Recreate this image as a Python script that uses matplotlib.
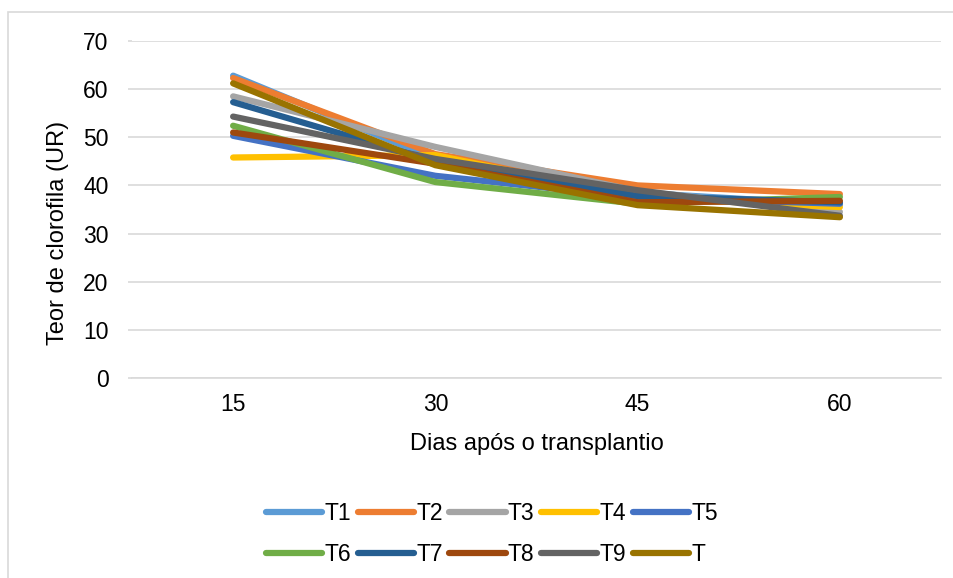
import matplotlib
matplotlib.use("Agg")
import matplotlib.pyplot as plt
from matplotlib.patches import Rectangle

plt.rcParams['font.family'] = ['Liberation Sans', 'DejaVu Sans']

dias = ["15", "30", "45", "60"]
series = ["T1", "T2", "T3", "T4", "T5", "T6", "T7", "T8", "T9", "T"]

t1 = [62.8, 45.5, 38.5, 36.0]
t2 = [62.3, 46.5, 40.0, 38.2]
t3 = [58.5, 48.0, 38.8, 34.5]
t4 = [45.8, 46.3, 37.5, 35.5]
t5 = [50.3, 42.0, 37.5, 36.2]
t6 = [52.4, 40.7, 36.2, 37.6]
t7 = [57.3, 45.0, 37.8, 36.5]
t8 = [51.0, 44.5, 36.5, 36.8]
t9 = [54.3, 45.5, 39.0, 33.7]
t_ = [61.2, 44.2, 35.9, 33.4]

values = [t1, t2, t3, t4, t5, t6, t7, t8, t9, t_]
colors = ["#5B9BD5", "#ED7D31", "#A5A5A5", "#FFC000", "#4472C4",
          "#70AD47", "#255E91", "#9E480E", "#636363", "#997300"]

fig = plt.figure(figsize=(9.54, 5.78), dpi=100)
ax = fig.add_axes([132 / 954, 1 - 378 / 578, (941 - 132) / 954, (378 - 41) / 578])

# outer frame of the chart area
fig.patches.append(Rectangle((8 / 954, -0.1), 1.2, 1 - 12 / 578 + 0.1,
                             transform=fig.transFigure, fill=False,
                             edgecolor="#d9d9d9", linewidth=1.2))

x = list(range(len(dias)))
handles = []
for name, vals, c in zip(series, values, colors):
    h, = ax.plot(x, vals, color=c, linewidth=4.5, solid_capstyle="round",
                 solid_joinstyle="round", label=name)
    handles.append(h)

ax.set_xlim(-0.5, len(dias) - 0.5)
ax.set_ylim(0, 70)
ax.set_yticks(range(0, 71, 10))
ax.set_xticks(x)
ax.set_xticklabels(dias)

ax.grid(axis="y", color="#d9d9d9", linewidth=1.2)
ax.set_axisbelow(True)
for side in ["top", "right", "left"]:
    ax.spines[side].set_visible(False)
ax.spines["bottom"].set_color("#d9d9d9")
ax.spines["bottom"].set_linewidth(1.2)

ax.tick_params(axis="y", length=3, color="#d9d9d9", width=1.2, pad=14,
               labelsize=16.5, labelcolor="#000000")
ax.tick_params(axis="x", length=0, pad=11, labelsize=16.5)

ax.set_xlabel("Dias após o transplantio", fontsize=17, labelpad=12)
ax.set_ylabel("Teor de clorofila (UR)", fontsize=17)
ax.yaxis.set_label_coords(-0.078, 0.43)

# legend fills by column, so interleave to get T1..T5 on the first row
order = [0, 5, 1, 6, 2, 7, 3, 8, 4, 9]
leg = fig.legend([handles[i] for i in order], [series[i] for i in order],
                 ncol=5, loc="center", bbox_to_anchor=(492 / 954, 1 - 534 / 578),
                 frameon=False, fontsize=16.5, handlelength=2.45, handletextpad=0.1,
                 columnspacing=0.3, labelspacing=0.75)

fig.savefig("out.png", dpi=100)
